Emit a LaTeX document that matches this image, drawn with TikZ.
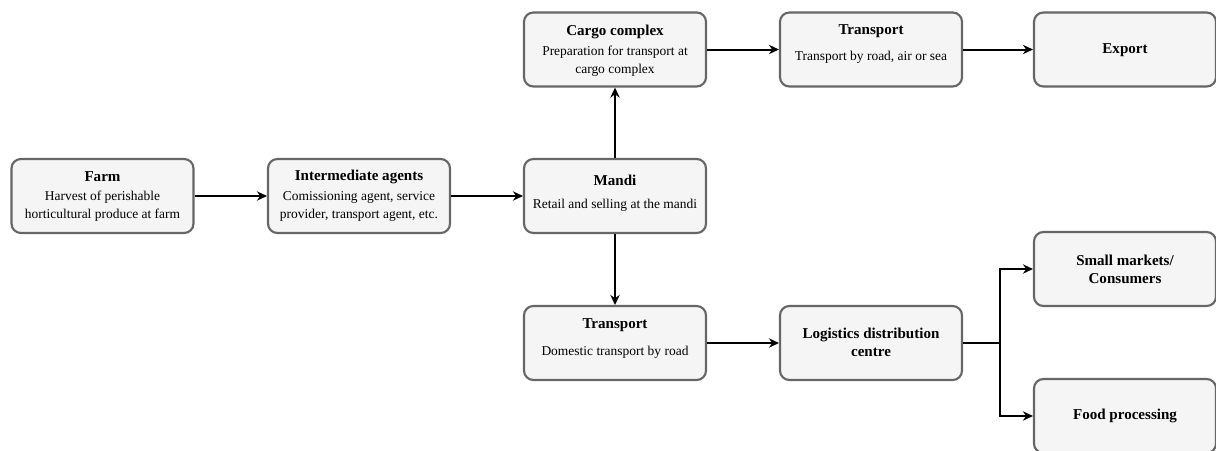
\documentclass[tikz,border=0pt]{standalone}
\usepackage{fontspec}
\setmainfont{Liberation Serif}
\usetikzlibrary{arrows.meta}
\definecolor{boxfill}{HTML}{F5F5F5}
\definecolor{boxline}{HTML}{666666}
\tikzset{
  stage/.style={draw=boxline, fill=boxfill, line width=1.6pt, rounded corners=7pt,
    minimum width=136.5pt, minimum height=55.5pt, inner sep=0pt},
  ttl/.style={font=\fontsize{11.3}{14}\selectfont\bfseries, align=center, inner sep=0pt},
  txt/.style={font=\fontsize{10.1}{13.5}\selectfont, align=center, inner sep=0pt},
  flow/.style={line width=1.5pt, -{Stealth[length=7.5pt,width=7pt]}},
  link/.style={line width=1.5pt}
}
\begin{document}
\begin{tikzpicture}[x=0.75pt,y=-0.75pt]
\useasboundingbox (0,0) rectangle (1216,450);
% stages
\node[stage] (farm)   at (102.5,196) {};
\node[stage] (inter)  at (359,196) {};
\node[stage] (mandi)  at (615,196) {};
\node[stage] (cargo)  at (615,49.5) {};
\node[stage] (trtop)  at (871,49.5) {};
\node[stage] (export) at (1125,49.5) {};
\node[stage] (trbot)  at (615,343) {};
\node[stage] (logis)  at (871,343) {};
\node[stage] (small)  at (1125,269) {};
\node[stage] (food)   at (1125,416) {};
% labels
\node[ttl] (farm-t) at (102.5,177) {Farm};
\node[txt] (farm-d) at (102.5,206) {Harvest of perishable\\horticultural produce at farm};
\node[ttl] (inter-t) at (359,177) {Intermediate agents};
\node[txt] (inter-d) at (359,206) {Comissioning agent, service\\provider, transport agent, etc.};
\node[ttl] (mandi-t) at (615,180) {Mandi};
\node[txt] (mandi-d) at (615,205) {Retail and selling at the mandi};
\node[ttl] (cargo-t) at (615,32) {Cargo complex};
\node[txt] (cargo-d) at (615,61.5) {Preparation for transport at\\cargo complex};
\node[ttl] (trtop-t) at (871,31) {Transport};
\node[txt] (trtop-d) at (871,57) {Transport by road, air or sea};
\node[ttl] (export-t) at (1125,50) {Export};
\node[ttl] (trbot-t) at (615,325) {Transport};
\node[txt] (trbot-d) at (615,352) {Domestic transport by road};
\node[ttl] (logis-t) at (871,342.5) {Logistics distribution\\centre};
\node[ttl] (small-t) at (1125,269.5) {Small markets/\\Consumers};
\node[ttl] (food-t) at (1125,416) {Food processing};
% connectors
\draw[flow] (farm) -- (inter);
\draw[flow] (inter) -- (mandi);
\draw[flow] (mandi) -- (cargo);
\draw[flow] (mandi) -- (trbot);
\draw[flow] (cargo) -- (trtop);
\draw[flow] (trtop) -- (export);
\draw[flow] (trbot) -- (logis);
\coordinate (split) at (1000,343);
\draw[link] (logis) -- (split);
\draw[flow] (split) |- (small);
\draw[flow] (split) |- (food);
\end{tikzpicture}
\end{document}
